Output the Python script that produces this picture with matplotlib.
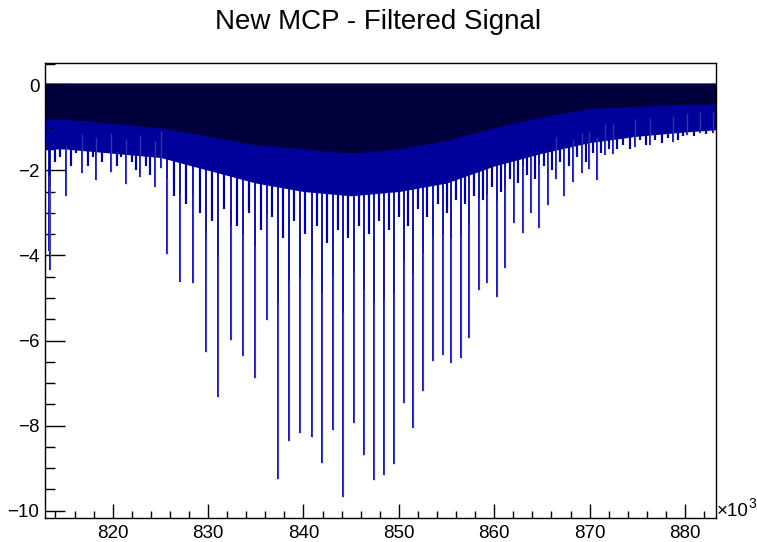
import matplotlib
matplotlib.use("Agg")
import matplotlib.pyplot as plt
from matplotlib.ticker import MultipleLocator

plt.rcParams['font.family'] = ['Liberation Sans', 'DejaVu Sans']

# main pulses: position (x10^3) and depth
pulse_x = [813.30, 813.45, 815.07, 816.82, 818.29, 819.86, 821.36, 822.83, 824.41,
           825.11, 825.74, 827.10, 828.43, 829.76, 831.05, 832.35, 833.64, 834.90,
           836.13, 837.28, 838.50, 839.62, 840.85, 841.93, 843.05, 844.17, 845.29,
           846.31, 847.39, 848.44, 849.52, 850.54, 851.51, 852.56, 853.55, 854.60,
           855.47, 856.52, 857.39, 858.37, 859.28, 860.26, 861.17, 862.08, 862.99,
           863.83, 864.73, 865.68, 866.48, 867.36, 868.30, 869.18, 869.98, 870.76,
           871.63, 872.43, 874.78, 876.35, 878.76, 880.20, 881.60, 882.97]
pulse_y = [-3.90, -4.34, -2.61, -2.07, -2.23, -2.03, -2.32, -2.15, -2.40,
           -1.95, -3.97, -4.63, -4.66, -6.28, -7.32, -5.99, -6.36, -6.87,
           -5.52, -9.26, -8.35, -8.18, -8.26, -8.88, -8.10, -9.68, -7.94,
           -8.70, -9.27, -9.15, -8.90, -7.47, -8.06, -7.18, -6.48, -6.34,
           -6.53, -6.42, -5.95, -4.81, -4.66, -4.97, -4.30, -3.25, -3.47,
           -3.00, -3.35, -2.82, -2.21, -2.60, -2.28, -2.06, -1.97, -2.23,
           -1.64, -1.62, -1.45, -1.41, -1.33, -1.17, -1.13, -1.13]

# smaller spikes between the main pulses
minor_x = [813.9, 814.5, 815.6, 816.2, 817.4, 817.9, 818.9, 819.4, 820.5, 820.9,
           822.0, 822.4, 823.5, 823.9, 826.4, 827.7, 829.1, 830.4, 831.7, 833.0,
           834.3, 835.5, 836.7, 837.9, 839.0, 840.2, 841.4, 842.5, 843.6, 844.7,
           845.8, 846.9, 847.9, 849.0, 850.0, 851.0, 852.0, 853.0, 854.1, 855.0,
           856.0, 856.9, 857.9, 858.8, 859.8, 860.7, 861.6, 862.5, 863.4, 864.3,
           865.2, 866.1, 866.9, 867.8, 868.7, 869.6, 870.4, 871.2, 872.0, 872.9,
           873.5, 874.2, 875.3, 875.9, 876.9, 877.6, 878.2, 879.3, 879.8, 880.9,
           882.2]
minor_y = [-1.8, -1.7, -1.9, -1.6, -1.9, -1.7, -1.8, -1.6, -1.9, -1.7,
           -1.8, -2.0, -1.9, -2.1, -2.6, -2.8, -3.0, -3.2, -2.9, -3.3,
           -3.0, -3.4, -3.1, -3.6, -3.2, -3.5, -3.3, -3.7, -3.4, -3.6,
           -3.3, -3.5, -3.2, -3.4, -3.1, -3.3, -2.9, -3.1, -2.8, -3.0,
           -2.7, -2.8, -2.6, -2.7, -2.4, -2.5, -2.2, -2.3, -2.1, -2.2,
           -1.9, -2.0, -1.8, -1.9, -1.7, -1.8, -1.6, -1.6, -1.5, -1.5,
           -1.4, -1.5, -1.3, -1.4, -1.3, -1.35, -1.25, -1.3, -1.2, -1.2,
           -1.15]

# envelope of the dense band
env_x = [812.9, 815, 820, 825, 830, 835, 840, 845, 850, 855, 860, 865, 870, 875, 880, 883.2]
band_low = [-1.5, -1.5, -1.6, -1.7, -2.0, -2.3, -2.5, -2.6, -2.5, -2.3, -1.9, -1.6, -1.35, -1.2, -1.1, -1.05]
dark_low = [-0.8, -0.8, -0.9, -1.0, -1.2, -1.4, -1.5, -1.6, -1.5, -1.3, -1.0, -0.75, -0.55, -0.5, -0.45, -0.45]
band_top = 0.05

line_col = '#00009a'

fig = plt.figure(figsize=(7.57, 5.42), dpi=100)
ax = fig.add_axes([45 / 757, 24 / 542, 671 / 757, 455 / 542])

ax.fill_between(env_x, band_low, band_top, color=line_col, lw=0)
ax.vlines(minor_x, 0, minor_y, color=line_col, lw=1.6)
ax.vlines(pulse_x, 0, pulse_y, color=line_col, lw=1.3)
ax.vlines(pulse_x, [d * 0.55 for d in pulse_y], pulse_y, color='#5555bb', lw=1.0, alpha=0.6)
ax.fill_between(env_x, dark_low, band_top, color='#000000', lw=0, alpha=0.6, zorder=3)

ax.set_xlim(812.9, 883.25)
ax.set_ylim(-10.17, 0.52)

ax.xaxis.set_major_locator(MultipleLocator(10))
ax.xaxis.set_minor_locator(MultipleLocator(2))
ax.yaxis.set_major_locator(MultipleLocator(2))
ax.yaxis.set_minor_locator(MultipleLocator(0.5))
ax.tick_params(axis='x', which='major', direction='in', length=10, width=1, labelsize=13.5, pad=5)
ax.tick_params(axis='x', which='minor', direction='in', length=5, width=1)
ax.tick_params(axis='y', which='major', direction='in', length=14.5, width=1, labelsize=13.5, pad=4)
ax.tick_params(axis='y', which='minor', direction='in', length=7, width=1)
for s in ax.spines.values():
    s.set_linewidth(1)

fig.text(0.5, 1 - 22 / 542, 'New MCP - Filtered Signal', ha='center', va='center', fontsize=20)
fig.text(717 / 757, 1 - 512 / 542, '\u00d710', ha='left', va='center', fontsize=13.5)
fig.text(748 / 757, 1 - 504 / 542, '3', ha='left', va='center', fontsize=10)

fig.savefig('out.png', dpi=100)
